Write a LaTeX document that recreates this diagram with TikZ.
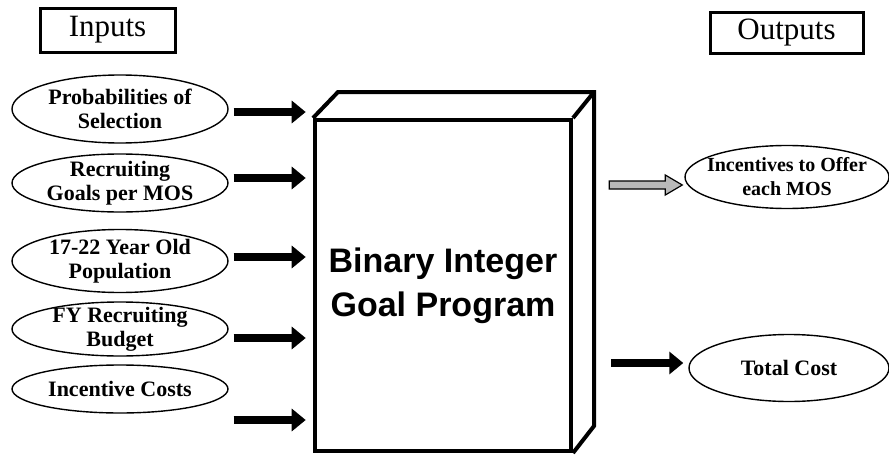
\documentclass[tikz,border=0pt]{standalone}
\usepackage{fontspec}
\usepackage{tikz}
\usetikzlibrary{arrows.meta,shapes.geometric}
\setmainfont{Liberation Serif}
\newfontfamily\progfont{Liberation Sans}

\tikzset{
  oval/.style={ellipse,draw,line width=1.4pt,minimum width=216pt,inner xsep=-14pt,inner ysep=-10pt,
    align=center,font=\bfseries\fontsize{22}{24}\selectfont},
  headbox/.style={draw,line width=3pt,inner sep=0pt,font=\fontsize{31}{36}\selectfont},
  fatarrow/.style={line width=8pt,-{Triangle[length=14pt,width=22pt]}},
  boxedge/.style={line width=4pt,line join=miter}
}

\begin{document}
\begin{tikzpicture}[x=1pt,y=-1pt]
			\useasboundingbox (0,0) rectangle (889,455);
			% Tiêu đề
			\node[headbox,minimum width=135pt,minimum height=44pt] (inputs) at (107.5,30) {Inputs};
			\node[headbox,minimum width=153pt,minimum height=41pt] (outputs) at (786.5,32.5) {Outputs};
			% Các đầu vào
			\node[oval,minimum height=68pt] (in1) at (120,109) {Probabilities of\\Selection};
			\node[oval,minimum height=58pt] (in2) at (120,183) {Recruiting\\Goals per MOS};
			\node[oval,minimum height=63pt] (in3) at (120,261) {17-22 Year Old\\Population};
			\node[oval,minimum height=54pt] (in4) at (120,329) {FY Recruiting\\Budget};
			\node[oval,minimum height=48pt] (in5) at (120,389) {Incentive Costs};
			% Khối chương trình
			\node[draw,line width=4pt,minimum width=256pt,minimum height=331pt,align=center,
			  font=\progfont\bfseries\fontsize{34}{44}\selectfont] (prog) at (443,285.5)
			  {Binary Integer\\Goal Program};
			\draw[boxedge] (prog.north west) -- ++(25,-26) -- ++(256,0) coordinate (br)
			  -- ++(0,334) -- (prog.south east);
			\draw[boxedge] (prog.north east) -- (br);
			\foreach \n/\y in {in1/112,in2/178,in3/257,in4/338,in5/420}
			\draw[fatarrow] (\n.east |- 0,\y) ++(5,0) -- ++(72,0);
			% Các đầu ra
			\node[oval,minimum width=204pt,minimum height=63pt,font=\bfseries\fontsize{20}{24}\selectfont]
			  (out1) at (787,177) {Incentives to Offer\\each MOS};
			\node[oval,minimum width=200pt,minimum height=67pt] (out2) at (789,368) {Total Cost};
			\draw[line width=1.2pt,fill=gray!55] (out1.west) ++(-2,8) -- ++(-17,-10) -- ++(0,6)
			  -- ++(-56,0) -- ++(0,8) -- ++(56,0) -- ++(0,6) -- cycle;
			\draw[fatarrow] (out2.west |- 0,363) ++(-77,0) -- ++(72,0);
		\end{tikzpicture}
\end{document}
